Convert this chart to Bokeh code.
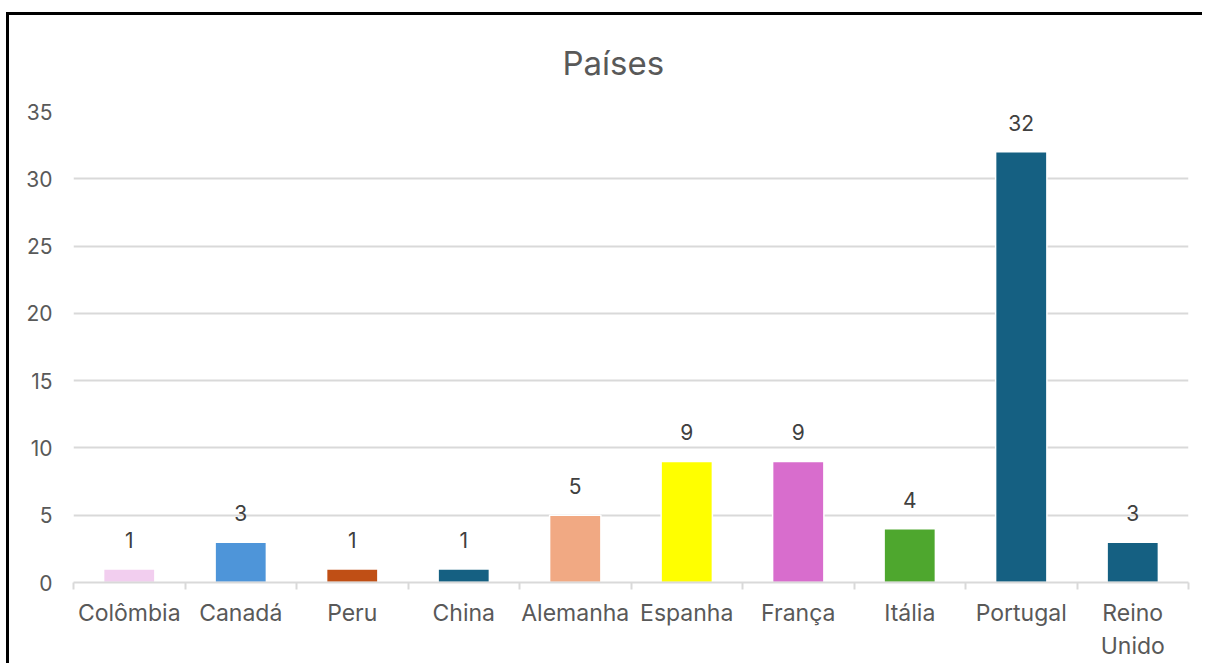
from bokeh.plotting import figure
from bokeh.models import ColumnDataSource, FixedTicker, LabelSet, Range1d
from bokeh.core.properties import value
from bokeh.embed import file_html
from bokeh.resources import INLINE

title_text = "Países"
countries = ["Colômbia", "Canadá", "Peru", "China", "Alemanha", "Espanha", "França", "Itália", "Portugal", "Reino\nUnido"]
counts = [1, 3, 1, 1, 5, 9, 9, 4, 32, 3]
colors = ["#F2CEEF", "#4E95D9", "#C04F15", "#156082", "#F1A983", "#FFFF00", "#D86DCD", "#4EA72E", "#156082", "#156082"]
y_ticks = [0, 5, 10, 15, 20, 25, 30, 35]

FONT = "Inter"
GREY = "#595959"

xs = [i + 0.5 for i in range(len(countries))]
src = ColumnDataSource(dict(x=xs, top=counts, color=colors, label=[str(c) for c in counts]))

p = figure(width=1196, height=651, output_backend="svg", toolbar_location=None,
           x_range=Range1d(0, len(countries)), y_range=Range1d(0, y_ticks[-1]),
           title=title_text,
           min_border_left=64, min_border_right=17, min_border_top=96, min_border_bottom=84,
           styles={"border-left": "3px solid black", "border-top": "3px solid black",
                   "margin-left": "6px", "margin-top": "12px"})
p.outline_line_color = None
p.background_fill_color = "white"
p.border_fill_color = "white"

p.title.align = "left"
p.title.offset = 489
p.title.vertical_align = "top"
p.title.standoff = 53
p.title.text_font = FONT
p.title.text_font_size = "33px"
p.title.text_font_style = "normal"
p.title.text_color = GREY

p.vbar(x="x", top="top", width=0.46, fill_color="color", line_color="white", line_width=1.5, source=src)

labels = LabelSet(x="x", y="top", text="label", source=src, y_offset=29, text_align="center",
                  text_baseline="middle", text_font=value(FONT), text_font_size="21px", text_color="#404040")
p.add_layout(labels)

# x axis
p.xaxis.ticker = FixedTicker(ticks=xs, minor_ticks=list(range(len(countries) + 1)))
p.xaxis.major_label_overrides = {x: c for x, c in zip(xs, countries)}
p.xaxis.major_tick_out = 0
p.xaxis.major_tick_in = 0
p.xaxis.minor_tick_out = 7
p.xaxis.minor_tick_in = 0
p.xaxis.minor_tick_line_color = "#D9D9D9"
p.xaxis.minor_tick_line_width = 2
p.xaxis.axis_line_color = "#D9D9D9"
p.xaxis.axis_line_width = 2
p.xaxis.major_label_text_font = FONT
p.xaxis.major_label_text_font_size = "23px"
p.xaxis.major_label_text_color = GREY
p.xaxis.major_label_standoff = 9

# y axis
p.yaxis.ticker = FixedTicker(ticks=y_ticks)
p.yaxis.axis_line_color = None
p.yaxis.major_tick_line_color = None
p.yaxis.minor_tick_line_color = None
p.yaxis.major_label_text_font = FONT
p.yaxis.major_label_text_font_size = "21px"
p.yaxis.major_label_text_color = GREY
p.yaxis.major_label_standoff = 15

p.xgrid.grid_line_color = None
p.ygrid.ticker = FixedTicker(ticks=y_ticks)
p.ygrid.grid_line_color = "#D9D9D9"
p.ygrid.grid_line_width = 2

open("out.html", "w").write(file_html(p, INLINE))
